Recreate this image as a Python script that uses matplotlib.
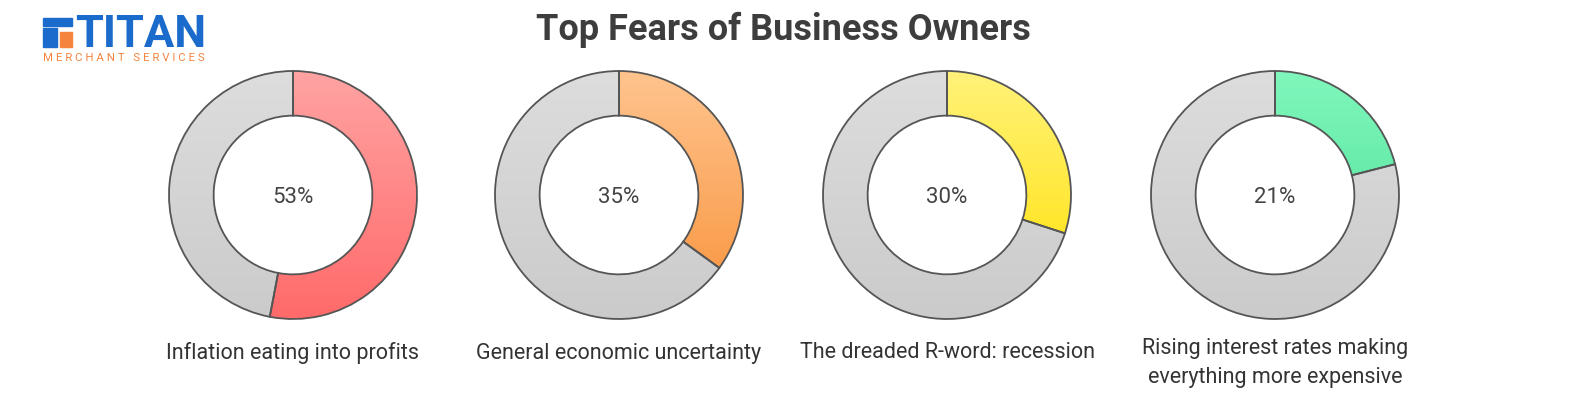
import numpy as np
import matplotlib
matplotlib.use("Agg")
import matplotlib.pyplot as plt
from matplotlib.colors import LinearSegmentedColormap
from matplotlib.patches import Rectangle

# data
fears = ["Inflation eating into profits",
         "General economic uncertainty",
         "The dreaded R-word: recession",
         "Rising interest rates making\neverything more expensive"]
shares = [53, 35, 30, 21]
tops = ["#FFA3A3", "#FFC48E", "#FFF27A", "#80F7BC"]
bottoms = ["#FF6A6A", "#F8923A", "#FFE000", "#45DC92"]

W, H = 1584, 396
fig = plt.figure(figsize=(W / 100, H / 100), dpi=100)
fig.patch.set_facecolor("white")
plt.rcParams["font.family"] = ["Roboto", "DejaVu Sans"]

centers_x = [293, 619, 947, 1275]
cy = 195
R = 124
lim = 1.02
side = 2 * lim * R

gray_cmap = LinearSegmentedColormap.from_list("g", ["#DDDDDD", "#CBCBCB"])
grad = np.linspace(0, 1, 256).reshape(-1, 1)

for cx, pct, label, c0, c1 in zip(centers_x, shares, fears, tops, bottoms):
    ax = fig.add_axes([(cx - side / 2) / W, 1 - (cy + side / 2) / H, side / W, side / H])
    wedges, _ = ax.pie([pct, 100 - pct], startangle=90, counterclock=False,
                       colors=["none", "none"],
                       wedgeprops=dict(width=0.36, edgecolor="#555555", linewidth=1.3))
    cmaps = [LinearSegmentedColormap.from_list("c", [c0, c1]), gray_cmap]
    for w, cm in zip(wedges, cmaps):
        im = ax.imshow(grad, cmap=cm, extent=[-1, 1, -1, 1], origin="upper",
                       aspect="auto", zorder=0.5)
        im.set_clip_path(w)
    ax.set_xlim(-lim, lim)
    ax.set_ylim(-lim, lim)
    ax.set_aspect("equal")
    ax.axis("off")
    ax.text(0, 0, f"{pct}%", ha="center", va="center_baseline", fontsize=16, color="#444444")
    ly = 363 if "\n" in label else 353
    fig.text(cx / W, 1 - ly / H, label, ha="center", va="center", fontsize=15.5,
             color="#333333", linespacing=1.5)

fig.text(783 / W, 1 - 30 / H, "Top Fears of Business Owners", ha="center", va="center",
         fontsize=26, fontweight="bold", color="#3d3d3d")

# logo
blue = "#1A6BCB"
orange = "#F5843F"
lax = fig.add_axes([0, 0, 1, 1], zorder=5)
lax.set_xlim(0, W)
lax.set_ylim(H, 0)
lax.axis("off")
lax.add_patch(Rectangle((43, 18), 29, 8, color=blue))
lax.add_patch(Rectangle((43, 28), 14, 19, color=blue))
lax.add_patch(Rectangle((60, 32), 12, 15, color=orange))
lax.text(75, 35, "TITAN", fontsize=32.5, fontweight="bold", color=blue, va="center", ha="left")
lax.text(43, 58, "M E R C H A N T   S E R V I C E S", fontsize=8.2, color=orange,
         va="center", ha="left")

fig.savefig("out.png", dpi=100, facecolor="white")
